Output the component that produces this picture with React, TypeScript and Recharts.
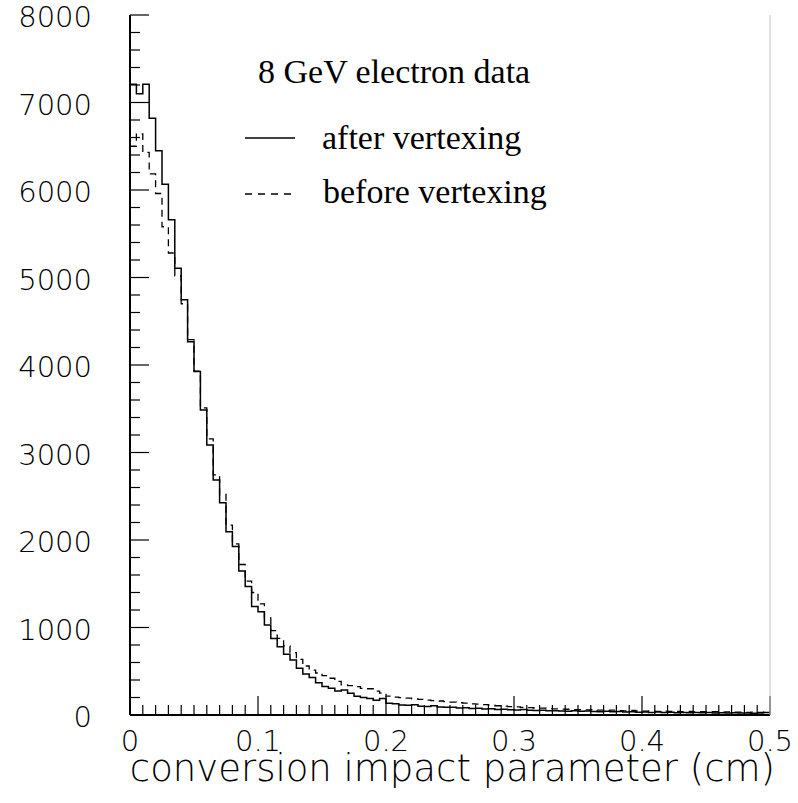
import { LineChart, Line, XAxis, YAxis } from 'recharts'

// bin width 0.005 cm, 100 bins from 0 to 0.5
const BIN_WIDTH = 0.005

const afterVertexing = [
  7210, 7100, 7210, 6820, 6450, 6065, 5660, 5105, 4745, 4265,
  3925, 3485, 3085, 2685, 2425, 2095, 1925, 1645, 1470, 1240,
  1180, 1030, 875, 780, 695, 630, 535, 470, 430, 370,
  325, 305, 275, 285, 250, 215, 200, 190, 170, 190,
  135, 130, 115, 112, 118, 100, 98, 105, 92, 88,
  90, 80, 82, 75, 78, 70, 72, 64, 66, 60,
  58, 62, 55, 52, 55, 48, 50, 46, 44, 48,
  42, 45, 40, 38, 42, 36, 40, 34, 36, 32,
  35, 30, 33, 28, 32, 27, 30, 26, 29, 25,
  28, 24, 26, 22, 25, 22, 24, 20, 23, 30,
]

const beforeVertexing = [
  6500, 6640, 6430, 6185, 5960, 5580, 5280, 5020, 4700, 4290,
  3930, 3510, 3155, 2745, 2520, 2170, 1955, 1720, 1530, 1400,
  1270, 1110, 965, 875, 790, 712, 636, 560, 514, 480,
  450, 420, 385, 345, 335, 324, 305, 300, 274, 250,
  215, 205, 198, 192, 185, 178, 170, 165, 160, 152,
  148, 140, 136, 128, 124, 118, 112, 106, 102, 96,
  92, 88, 84, 80, 78, 74, 70, 68, 66, 62,
  60, 58, 62, 55, 52, 56, 50, 48, 52, 46,
  45, 48, 42, 44, 40, 42, 38, 40, 36, 38,
  35, 37, 33, 36, 32, 34, 30, 33, 30, 32,
]

const xTicks = Array.from({ length: 51 }, (_, i) => Number((i * 0.01).toFixed(2)))
const yTicks = Array.from({ length: 41 }, (_, i) => i * 200)

const data = afterVertexing.map((v, i) => ({
  x: Number((i * BIN_WIDTH).toFixed(3)),
  after: v,
  before: beforeVertexing[i],
}))
// close the last bin at 0.5
data.push({
  x: 0.5,
  after: afterVertexing[afterVertexing.length - 1],
  before: beforeVertexing[beforeVertexing.length - 1],
})

const PLOT_LEFT = 130
const PLOT_BOTTOM = 715
const sansFont = '"DejaVu Sans", sans-serif'
const serif = '"Liberation Serif", "Times New Roman", serif'

const XTick = (props: any) => {
  const { x, payload } = props
  const v = payload.value
  const major = Math.abs(v * 10 - Math.round(v * 10)) < 1e-6
  return (
    <g>
      <line x1={x} x2={x} y1={PLOT_BOTTOM} y2={PLOT_BOTTOM - (major ? 19 : 10)} stroke="#000" strokeWidth={1.2} />
      {major && (
        <text x={x} y={751} textAnchor="middle" fontSize={29} fontWeight={200} fontFamily={sansFont} fill="#000">
          {v === 0 ? '0' : v.toFixed(1)}
        </text>
      )}
    </g>
  )
}

const YTick = (props: any) => {
  const { y, payload } = props
  const v = payload.value
  const major = v % 1000 === 0
  return (
    <g>
      <line x1={PLOT_LEFT} x2={PLOT_LEFT + (major ? 19 : 10)} y1={y} y2={y} stroke="#000" strokeWidth={1.2} />
      {major && (
        <text x={92} y={y + 12} textAnchor="end" fontSize={29} fontWeight={200} fontFamily={sansFont} fill="#000">
          {v}
        </text>
      )}
    </g>
  )
}

export default function App() {
  return (
    <div style={{ position: 'absolute', left: 0, top: 0, width: 798, height: 803, background: '#fff' }}>
      <LineChart width={798} height={803} data={data} margin={{ top: 15, right: 28, left: 0, bottom: 0 }}>
        <XAxis
          type="number"
          dataKey="x"
          domain={[0, 0.5]}
          ticks={xTicks}
          interval={0}
          tick={<XTick />}
          tickLine={false}
          height={88}
          axisLine={{ stroke: '#000', strokeWidth: 2 }}
        />
        <YAxis
          type="number"
          domain={[0, 8000]}
          ticks={yTicks}
          interval={0}
          tick={<YTick />}
          tickLine={false}
          width={130}
          axisLine={{ stroke: '#000', strokeWidth: 2 }}
        />
        <Line
          type="stepAfter"
          dataKey="before"
          stroke="#000"
          strokeWidth={1.3}
          strokeDasharray="7 5"
          dot={false}
          isAnimationActive={false}
        />
        <Line
          type="stepAfter"
          dataKey="after"
          stroke="#000"
          strokeWidth={1.5}
          dot={false}
          isAnimationActive={false}
        />
      </LineChart>
      <svg
        width={798}
        height={803}
        style={{ position: 'absolute', left: 0, top: 0, pointerEvents: 'none' }}
      >
        <line x1={770} x2={770} y1={15} y2={715} stroke="#c4c4c4" strokeWidth={1} />
        <text x={258} y={83} fontSize={34} fontFamily={serif} fill="#000">8 GeV electron data</text>
        <line x1={245} x2={295} y1={138} y2={138} stroke="#000" strokeWidth={1.3} />
        <text x={322} y={149} fontSize={34} fontFamily={serif} fill="#000">after vertexing</text>
        <line x1={245} x2={293} y1={194} y2={194} stroke="#000" strokeWidth={1.3} strokeDasharray="7 6" />
        <text x={323} y={203} fontSize={34} fontFamily={serif} fill="#000">before vertexing</text>
        <text x={775} y={781} textAnchor="end" fontSize={37} fontWeight={200} fontFamily={sansFont} fill="#000">
          conversion impact parameter (cm)
        </text>
      </svg>
    </div>
  )
}
